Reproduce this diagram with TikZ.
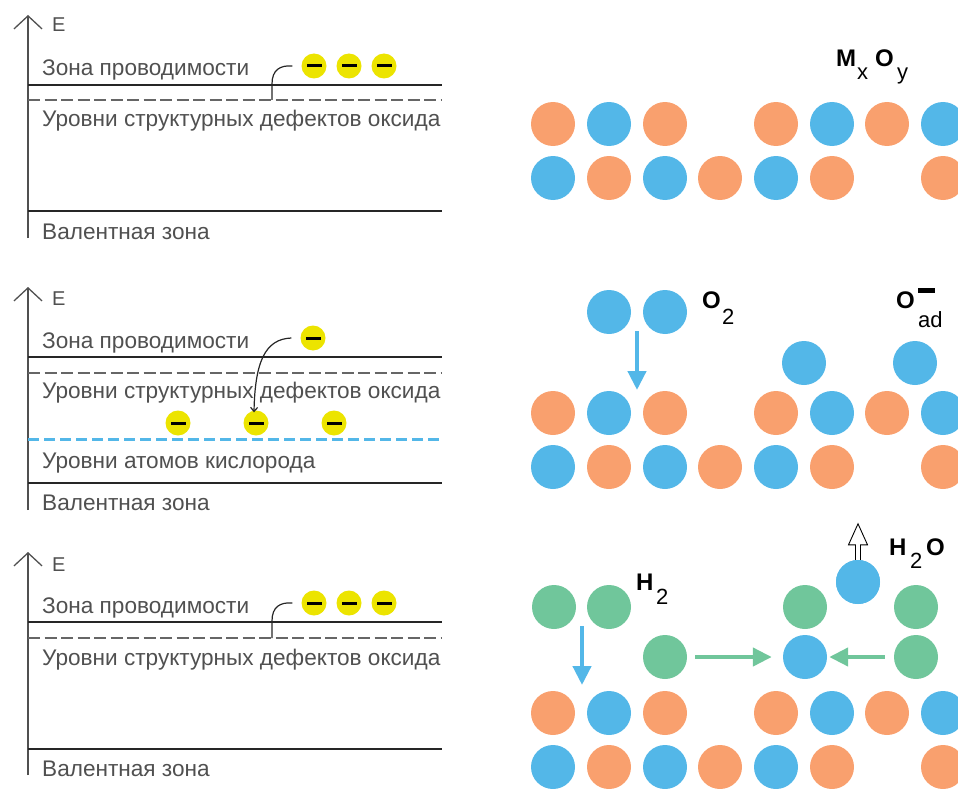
\documentclass[tikz,border=0pt]{standalone}
\usepackage{fontspec}
\setmainfont{Liberation Sans}
\usetikzlibrary{arrows.meta}
\definecolor{oxo}{RGB}{249,160,110}
\definecolor{oxb}{RGB}{83,183,232}
\definecolor{oxg}{RGB}{112,198,155}
\definecolor{elec}{RGB}{236,228,0}
\definecolor{txtg}{RGB}{80,80,80}
\begin{document}
\begin{tikzpicture}[x=1pt,y=-1pt,
  atomo/.style={circle,fill=oxo,minimum size=44pt,inner sep=0pt},
  atomb/.style={circle,fill=oxb,minimum size=44pt,inner sep=0pt},
  atomg/.style={circle,fill=oxg,minimum size=44pt,inner sep=0pt},
  elecn/.style={circle,fill=elec,minimum size=25pt,inner sep=0pt,
    path picture={\fill[black] ([xshift=-7.5pt,yshift=-1.5pt]path picture bounding box.center) rectangle ++(15pt,3pt);}},
  lbl/.style={anchor=base west,inner sep=0pt,font=\fontsize{22.6}{26}\selectfont,text=txtg},
  elbl/.style={anchor=base west,inner sep=0pt,font=\fontsize{20}{22}\selectfont,text=txtg},
  chem/.style={anchor=base west,inner sep=0pt,font=\bfseries\fontsize{24}{26}\selectfont},
  chsub/.style={anchor=base west,inner sep=0pt,font=\fontsize{22}{24}\selectfont},
  axisl/.style={line width=1.3pt,txtg,-{Straight Barb[length=13pt,width=28pt,line width=1.3pt]}},
  bandl/.style={line width=1.8pt,black!85},
  defl/.style={line width=1.4pt,gray!80!black,dash pattern=on 12pt off 4.5pt},
  oxl/.style={line width=3pt,oxb,dash pattern=on 11pt off 5pt},
  curvl/.style={line width=1.2pt,black!85},
  barrow/.style={line width=4.3pt,oxb,-{Triangle[length=19pt,width=18pt]}},
  garrow/.style={line width=4.3pt,oxg,-{Triangle[length=19pt,width=18pt]}}
]
\useasboundingbox (0,0) rectangle (958,789);
\clip (0,0) rectangle (958,789);

% ---------- Panel 1 (band diagram) ----------
\coordinate (a1b) at (28,238); \coordinate (a1t) at (28,15);
\draw[axisl] (a1b) -- (a1t);
\node[elbl] (E1) at (52,32) {E};
\node[lbl] (cz1) at (42,76) {Зона проводимости};
\coordinate (c1l) at (28,85); \coordinate (c1r) at (442,85);
\draw[bandl] (c1l) -- (c1r);
\coordinate (d1l) at (28,100); \coordinate (d1r) at (442,100);
\draw[defl] (d1l) -- (d1r);
\node[lbl] (dz1) at (42,127) {Уровни структурных дефектов оксида};
\coordinate (v1l) at (28,211); \coordinate (v1r) at (442,211);
\draw[bandl] (v1l) -- (v1r);
\node[lbl] (vz1) at (42,239) {Валентная зона};
\node[elecn] (e11) at (314,66) {};
\node[elecn] (e12) at (349,66) {};
\node[elecn] (e13) at (384,66) {};
\coordinate (k1) at (272,100);
\draw[curvl] (k1) -- (272,84) .. controls (272,70) and (280,65) .. ([xshift=-9pt]e11.west);

% ---------- Panel 2 ----------
\coordinate (a2b) at (28,510); \coordinate (a2t) at (28,287);
\draw[axisl] (a2b) -- (a2t);
\node[elbl] (E2) at (52,305) {E};
\node[lbl] (cz2) at (42,348) {Зона проводимости};
\coordinate (c2l) at (28,357); \coordinate (c2r) at (442,357);
\draw[bandl] (c2l) -- (c2r);
\coordinate (d2l) at (28,373); \coordinate (d2r) at (442,373);
\draw[defl] (d2l) -- (d2r);
\node[lbl] (dz2) at (42,398) {Уровни структурных дефектов оксида};
\coordinate (o2l) at (28,439); \coordinate (o2r) at (442,439);
\draw[oxl] (o2l) -- (o2r);
\node[lbl] (oz2) at (42,468) {Уровни атомов кислорода};
\coordinate (v2l) at (28,483); \coordinate (v2r) at (442,483);
\draw[bandl] (v2l) -- (v2r);
\node[lbl] (vz2) at (42,510) {Валентная зона};
\node[elecn] (e2t) at (313,338) {};
\node[elecn] (e21) at (178,423) {};
\node[elecn] (e22) at (256,423) {};
\node[elecn] (e23) at (334,423) {};
\draw[curvl,-{Straight Barb[length=4pt,width=7pt]}] ([xshift=-9pt]e2t.west) .. controls (265,339) and (255,362) .. ([xshift=-2pt,yshift=-2pt]e22.north);

% ---------- Panel 3 ----------
\coordinate (a3b) at (28,775); \coordinate (a3t) at (28,552);
\draw[axisl] (a3b) -- (a3t);
\node[elbl] (E3) at (52,571) {E};
\node[lbl] (cz3) at (42,613) {Зона проводимости};
\coordinate (c3l) at (28,622); \coordinate (c3r) at (442,622);
\draw[bandl] (c3l) -- (c3r);
\coordinate (d3l) at (28,638); \coordinate (d3r) at (442,638);
\draw[defl] (d3l) -- (d3r);
\node[lbl] (dz3) at (42,665) {Уровни структурных дефектов оксида};
\coordinate (v3l) at (28,749); \coordinate (v3r) at (442,749);
\draw[bandl] (v3l) -- (v3r);
\node[lbl] (vz3) at (42,776) {Валентная зона};
\node[elecn] (e31) at (314,603) {};
\node[elecn] (e32) at (349,603) {};
\node[elecn] (e33) at (384,603) {};
\coordinate (k3) at (272,638);
\draw[curvl] (k3) -- (272,621) .. controls (272,607) and (280,602) .. ([xshift=-9pt]e31.west);

% ---------- Right: lattice 1 ----------
\node[atomo] (p1a1) at (553,124) {};
\node[atomb] (p1a2) at (609,124) {};
\node[atomo] (p1a3) at (665,124) {};
\node[atomo] (p1a5) at (776,124) {};
\node[atomb] (p1a6) at (832,124) {};
\node[atomo] (p1a7) at (887,124) {};
\node[atomb] (p1a8) at (943,124) {};
\node[atomb] (p1b1) at (553,178) {};
\node[atomo] (p1b2) at (609,178) {};
\node[atomb] (p1b3) at (665,178) {};
\node[atomo] (p1b4) at (720,178) {};
\node[atomb] (p1b5) at (776,178) {};
\node[atomo] (p1b6) at (832,178) {};
\node[atomo] (p1b8) at (943,178) {};
\node[chem] (mM) at (836,67) {M};
\node[chsub] (mx) at (857,80) {x};
\node[chem] (mO) at (875,67) {O};
\node[chsub] (my) at (897,80) {y};

% ---------- Right: lattice 2 ----------
\node[atomb] (q1) at (609,312) {};
\node[atomb] (q2) at (665,312) {};
\node[chem] (qO) at (702,308) {O};
\node[chsub] (q2s) at (722,324) {2};
\node[atomb] (ad1) at (804,363) {};
\node[atomb] (ad2) at (915,363) {};
\node[chem] (adO) at (896,308) {O};
\node[chsub] (ads) at (918,327) {ad};
\fill (918,288) rectangle (935,293);
\coordinate (bq1) at (637,331); \coordinate (bq2) at (637,390);
\draw[barrow] (bq1) -- (bq2);
\node[atomo] (p2a1) at (553,413) {};
\node[atomb] (p2a2) at (609,413) {};
\node[atomo] (p2a3) at (665,413) {};
\node[atomo] (p2a5) at (776,413) {};
\node[atomb] (p2a6) at (832,413) {};
\node[atomo] (p2a7) at (887,413) {};
\node[atomb] (p2a8) at (943,413) {};
\node[atomb] (p2b1) at (553,467) {};
\node[atomo] (p2b2) at (609,467) {};
\node[atomb] (p2b3) at (665,467) {};
\node[atomo] (p2b4) at (720,467) {};
\node[atomb] (p2b5) at (776,467) {};
\node[atomo] (p2b6) at (832,467) {};
\node[atomo] (p2b8) at (943,467) {};

% ---------- Right: lattice 3 ----------
\node[atomg] (h1) at (554,607) {};
\node[atomg] (h2) at (609,607) {};
\node[chem] (hH) at (636,590) {H};
\node[chsub] (h2s) at (656,604) {2};
\coordinate (bh1) at (582,626); \coordinate (bh2) at (582,685);
\draw[barrow] (bh1) -- (bh2);
\node[atomg] (g1) at (665,657) {};
\node[atomb] (bc) at (805,657) {};
\node[atomg] (g2) at (916,657) {};
\node[atomg] (g3) at (805,607) {};
\node[atomg] (g4) at (916,607) {};
\draw[garrow] ([xshift=8pt]g1.east) -- ([xshift=-11pt]bc.west);
\draw[garrow] ([xshift=-9pt]g2.west) -- ([xshift=2pt]bc.east);
\node[atomb] (bw) at (858,582) {};
\draw[black,line width=0.9pt,fill=white,line join=miter]
  ([xshift=-2.5pt]bw.north) -- ++(0,-15) -- ++(-7,0) -- ++(9.5,-21) -- ++(9.5,21) -- ++(-7,0) -- ++(0,15);
\node[atomb] at (bw) {};
\node[chem] (wH) at (889,555) {H};
\node[chsub] (w2) at (910,568) {2};
\node[chem] (wO) at (926,555) {O};
\node[atomo] (p3a1) at (553,713) {};
\node[atomb] (p3a2) at (609,713) {};
\node[atomo] (p3a3) at (665,713) {};
\node[atomo] (p3a5) at (776,713) {};
\node[atomb] (p3a6) at (832,713) {};
\node[atomo] (p3a7) at (887,713) {};
\node[atomb] (p3a8) at (943,713) {};
\node[atomb] (p3b1) at (553,767) {};
\node[atomo] (p3b2) at (609,767) {};
\node[atomb] (p3b3) at (665,767) {};
\node[atomo] (p3b4) at (720,767) {};
\node[atomb] (p3b5) at (776,767) {};
\node[atomo] (p3b6) at (832,767) {};
\node[atomo] (p3b8) at (943,767) {};
\end{tikzpicture}
\end{document}
